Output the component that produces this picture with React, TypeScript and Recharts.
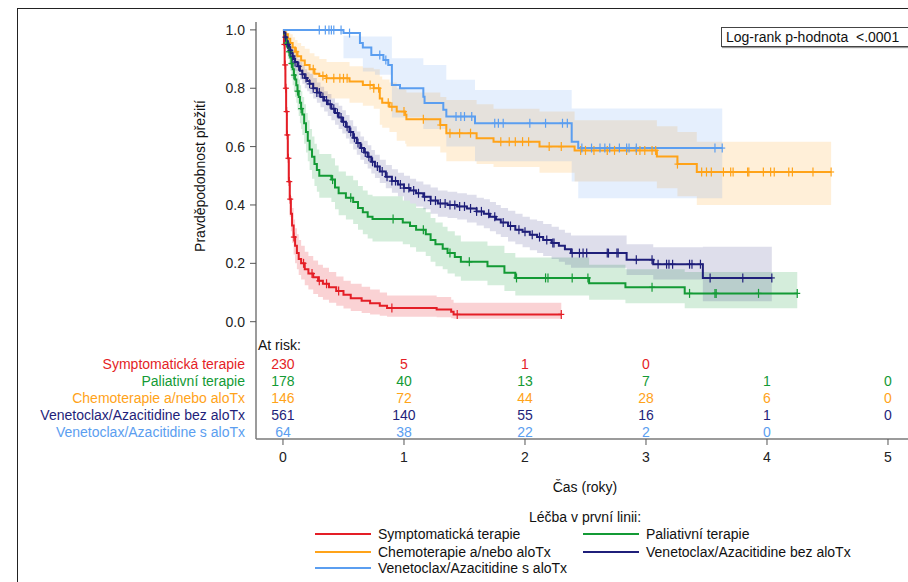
import React from "react";
import { ComposedChart, Line, Area, Scatter, XAxis, YAxis } from "recharts";

// [time (years), survival, lower CI, upper CI] – one row per step of the KM curve
type Step = [number, number, number, number];

const symptomatic: Step[] = [
  [0, 1, 1, 1], [0.008, 0.95, 0.92, 0.98], [0.014, 0.88, 0.84, 0.92], [0.02, 0.8, 0.75, 0.85],
  [0.026, 0.72, 0.66, 0.78], [0.032, 0.64, 0.58, 0.7], [0.04, 0.56, 0.49, 0.62], [0.048, 0.48, 0.42, 0.55],
  [0.056, 0.42, 0.36, 0.48], [0.065, 0.37, 0.31, 0.43], [0.075, 0.33, 0.27, 0.39], [0.088, 0.29, 0.23, 0.35],
  [0.1, 0.26, 0.2, 0.32], [0.115, 0.235, 0.18, 0.3], [0.13, 0.215, 0.16, 0.28], [0.15, 0.2, 0.145, 0.26],
  [0.18, 0.18, 0.125, 0.24], [0.21, 0.165, 0.11, 0.225], [0.25, 0.152, 0.095, 0.21], [0.29, 0.14, 0.085, 0.195],
  [0.33, 0.13, 0.075, 0.185], [0.38, 0.118, 0.065, 0.17], [0.44, 0.105, 0.055, 0.155], [0.5, 0.092, 0.045, 0.14],
  [0.56, 0.08, 0.037, 0.13], [0.65, 0.072, 0.03, 0.12], [0.72, 0.063, 0.025, 0.11], [0.8, 0.055, 0.02, 0.1],
  [0.86, 0.047, 0.017, 0.09], [1.27, 0.042, 0.015, 0.085], [1.39, 0.034, 0.012, 0.075], [1.41, 0.025, 0.01, 0.065],
  [2.3, 0.025, 0.01, 0.065],
];

const palliative: Step[] = [
  [0, 1, 1, 1], [0.01, 0.985, 0.96, 0.995], [0.02, 0.97, 0.94, 0.99], [0.03, 0.955, 0.92, 0.98],
  [0.04, 0.94, 0.9, 0.97], [0.05, 0.925, 0.88, 0.96], [0.06, 0.905, 0.86, 0.945], [0.07, 0.885, 0.835, 0.93],
  [0.08, 0.865, 0.81, 0.91], [0.09, 0.845, 0.79, 0.895], [0.1, 0.83, 0.77, 0.88], [0.11, 0.81, 0.75, 0.865],
  [0.12, 0.79, 0.725, 0.845], [0.13, 0.77, 0.705, 0.83], [0.14, 0.75, 0.68, 0.81], [0.15, 0.73, 0.66, 0.79],
  [0.16, 0.71, 0.64, 0.77], [0.175, 0.68, 0.61, 0.745], [0.19, 0.65, 0.58, 0.715], [0.205, 0.62, 0.55, 0.69],
  [0.22, 0.59, 0.52, 0.66], [0.24, 0.565, 0.49, 0.635], [0.26, 0.54, 0.465, 0.61], [0.28, 0.52, 0.445, 0.59],
  [0.3, 0.5, 0.425, 0.575], [0.4, 0.487, 0.41, 0.56], [0.43, 0.46, 0.385, 0.535], [0.46, 0.44, 0.365, 0.515],
  [0.52, 0.425, 0.35, 0.5], [0.58, 0.41, 0.335, 0.485], [0.62, 0.39, 0.315, 0.465], [0.66, 0.375, 0.3, 0.45],
  [0.7, 0.36, 0.285, 0.435], [0.74, 0.352, 0.275, 0.43], [0.99, 0.34, 0.265, 0.415], [1.05, 0.328, 0.255, 0.405],
  [1.1, 0.315, 0.24, 0.39], [1.18, 0.3, 0.225, 0.375], [1.22, 0.28, 0.205, 0.355], [1.26, 0.265, 0.19, 0.34],
  [1.32, 0.25, 0.18, 0.325], [1.36, 0.235, 0.165, 0.31], [1.42, 0.222, 0.155, 0.295], [1.47, 0.205, 0.14, 0.275],
  [1.69, 0.19, 0.125, 0.26], [1.83, 0.168, 0.105, 0.235], [1.92, 0.15, 0.09, 0.22], [2.53, 0.132, 0.075, 0.195],
  [2.83, 0.118, 0.063, 0.18], [3.32, 0.097, 0.046, 0.17], [4.25, 0.097, 0.046, 0.17],
];

const chemo: Step[] = [
  [0, 1, 1, 1], [0.02, 0.985, 0.965, 0.995], [0.04, 0.97, 0.94, 0.99], [0.06, 0.955, 0.92, 0.985],
  [0.08, 0.94, 0.9, 0.975], [0.1, 0.925, 0.88, 0.965], [0.12, 0.91, 0.86, 0.955], [0.15, 0.895, 0.84, 0.945],
  [0.18, 0.88, 0.825, 0.935], [0.22, 0.865, 0.8, 0.92], [0.26, 0.85, 0.785, 0.91], [0.3, 0.842, 0.775, 0.9],
  [0.36, 0.834, 0.765, 0.89], [0.55, 0.823, 0.75, 0.875], [0.66, 0.811, 0.74, 0.87], [0.75, 0.8, 0.73, 0.865],
  [0.8, 0.765, 0.675, 0.84], [0.82, 0.75, 0.665, 0.83], [0.88, 0.737, 0.65, 0.82], [0.94, 0.72, 0.62, 0.8],
  [1.01, 0.709, 0.61, 0.795], [1.02, 0.694, 0.6, 0.785], [1.3, 0.674, 0.58, 0.77], [1.35, 0.646, 0.55, 0.76],
  [1.6, 0.629, 0.54, 0.745], [1.74, 0.617, 0.53, 0.73], [2.12, 0.6, 0.51, 0.72], [2.41, 0.587, 0.48, 0.69],
  [3.09, 0.566, 0.457, 0.67], [3.26, 0.54, 0.43, 0.65], [3.42, 0.513, 0.4, 0.617], [4.53, 0.513, 0.4, 0.617],
];

const venBez: Step[] = [
  [0, 1, 1, 1], [0.01, 0.99, 0.98, 0.995], [0.02, 0.975, 0.96, 0.985], [0.03, 0.96, 0.945, 0.975],
  [0.04, 0.95, 0.93, 0.965], [0.05, 0.94, 0.92, 0.96], [0.06, 0.93, 0.905, 0.95], [0.07, 0.92, 0.895, 0.94],
  [0.08, 0.91, 0.885, 0.935], [0.09, 0.9, 0.87, 0.925], [0.1, 0.89, 0.86, 0.915], [0.12, 0.875, 0.845, 0.9],
  [0.14, 0.86, 0.83, 0.89], [0.16, 0.848, 0.815, 0.88], [0.18, 0.835, 0.8, 0.865], [0.2, 0.825, 0.79, 0.855],
  [0.22, 0.815, 0.78, 0.85], [0.25, 0.8, 0.765, 0.835], [0.28, 0.785, 0.75, 0.82], [0.31, 0.77, 0.735, 0.805],
  [0.34, 0.758, 0.72, 0.79], [0.37, 0.745, 0.705, 0.78], [0.4, 0.73, 0.69, 0.765], [0.43, 0.715, 0.675, 0.75],
  [0.46, 0.7, 0.66, 0.74], [0.49, 0.685, 0.645, 0.725], [0.52, 0.668, 0.628, 0.708], [0.55, 0.65, 0.61, 0.69],
  [0.58, 0.63, 0.59, 0.67], [0.61, 0.612, 0.572, 0.652], [0.64, 0.595, 0.555, 0.635], [0.67, 0.58, 0.54, 0.62],
  [0.7, 0.565, 0.525, 0.605], [0.73, 0.548, 0.508, 0.588], [0.76, 0.532, 0.492, 0.572], [0.8, 0.515, 0.475, 0.555],
  [0.85, 0.497, 0.457, 0.537], [0.9, 0.482, 0.442, 0.522], [0.95, 0.47, 0.43, 0.51], [1.0, 0.458, 0.415, 0.5],
  [1.05, 0.45, 0.405, 0.49], [1.1, 0.44, 0.395, 0.48], [1.16, 0.428, 0.385, 0.47], [1.22, 0.415, 0.37, 0.46],
  [1.28, 0.405, 0.36, 0.45], [1.36, 0.4, 0.355, 0.445], [1.44, 0.395, 0.35, 0.44], [1.52, 0.388, 0.34, 0.435],
  [1.6, 0.378, 0.33, 0.425], [1.66, 0.37, 0.32, 0.42], [1.71, 0.36, 0.31, 0.41], [1.76, 0.35, 0.3, 0.4],
  [1.8, 0.34, 0.29, 0.39], [1.86, 0.328, 0.275, 0.38], [1.92, 0.315, 0.265, 0.37], [1.98, 0.308, 0.255, 0.36],
  [2.04, 0.298, 0.245, 0.35], [2.1, 0.29, 0.235, 0.345], [2.15, 0.28, 0.225, 0.335], [2.22, 0.27, 0.215, 0.325],
  [2.28, 0.26, 0.205, 0.315], [2.33, 0.248, 0.195, 0.305], [2.38, 0.235, 0.185, 0.295], [2.84, 0.212, 0.16, 0.265],
  [3.06, 0.197, 0.145, 0.255], [3.47, 0.15, 0.07, 0.257], [4.04, 0.15, 0.07, 0.257],
];

const venS: Step[] = [
  [0, 1, 1, 1], [0.5, 0.989, 0.903, 0.98], [0.636, 0.955, 0.903, 0.977], [0.66, 0.94, 0.857, 0.977],
  [0.73, 0.914, 0.857, 0.977], [0.76, 0.914, 0.846, 0.977], [0.83, 0.897, 0.846, 0.977], [0.87, 0.88, 0.846, 0.977],
  [0.9, 0.811, 0.7, 0.903], [0.967, 0.8, 0.7, 0.903], [1.16, 0.771, 0.66, 0.88], [1.17, 0.749, 0.66, 0.88],
  [1.325, 0.726, 0.66, 0.88], [1.35, 0.703, 0.6, 0.829], [1.587, 0.68, 0.55, 0.794], [2.386, 0.617, 0.48, 0.731],
  [2.44, 0.595, 0.423, 0.731], [3.63, 0.595, 0.423, 0.731],
];

// censoring times (years)
const censSymptomatic = [0.012, 0.018, 0.024, 0.03, 0.036, 0.045, 0.052, 0.06, 0.09, 0.17, 0.24, 0.3, 0.36, 0.46, 0.9, 1.44, 2.3];
const censPalliative = [0.03, 0.05, 0.07, 0.09, 0.12, 0.15, 0.41, 0.56, 0.91, 1.16, 1.38, 1.54, 1.93, 2.17, 2.19, 2.39, 2.52, 3.05, 3.36, 3.57, 3.58, 3.93, 4.25];
const censChemo = [0.11, 0.25, 0.33, 0.36, 0.42, 0.47, 0.5, 0.53, 0.72, 0.75, 0.79, 0.87, 0.9, 1.0, 1.16, 1.3, 1.38, 1.46, 1.55, 1.8, 1.87, 1.92, 1.98, 2.03, 2.2, 2.3, 2.46, 2.5, 2.57, 2.68, 2.74, 2.84, 2.92, 2.95, 2.99, 3.05, 3.08, 3.26, 3.46, 3.5, 3.54, 3.64, 3.7, 3.72, 3.84, 3.85, 3.97, 4.03, 4.06, 4.18, 4.21, 4.38, 4.53];
const censVenBez = [0.02, 0.04, 0.06, 0.08, 0.1, 0.13, 0.16, 0.19, 0.22, 0.25, 0.28, 0.3, 0.33, 0.36, 0.39, 0.42, 0.45, 0.48, 0.5, 0.53, 0.56, 0.59, 0.62, 0.65, 0.68, 0.71, 0.74, 0.78, 0.82, 0.86, 0.9, 0.93, 0.97, 1.0, 1.04, 1.08, 1.12, 1.17, 1.22, 1.26, 1.3, 1.34, 1.38, 1.42, 1.46, 1.5, 1.55, 1.6, 1.64, 1.7, 1.75, 1.82, 1.88, 1.95, 2.0, 2.06, 2.12, 2.18, 2.23, 2.24, 2.39, 2.45, 2.48, 2.51, 2.68, 2.69, 2.76, 2.77, 2.92, 3.05, 3.1, 3.17, 3.19, 3.22, 3.36, 3.38, 3.45, 3.53, 3.8, 4.04];
const censVenS = [0.3, 0.35, 0.38, 0.4, 0.42, 0.48, 0.55, 0.8, 0.85, 1.43, 1.47, 1.5, 1.56, 1.75, 1.78, 1.82, 2.04, 2.17, 2.31, 2.35, 2.47, 2.55, 2.62, 2.66, 2.7, 2.78, 2.84, 2.86, 2.92, 3.57, 3.63];

const groupNames = [
  "Symptomatická terapie",
  "Paliativní terapie",
  "Chemoterapie a/nebo aloTx",
  "Venetoclax/Azacitidine bez aloTx",
  "Venetoclax/Azacitidine s aloTx",
];
const groupColors = ["#e41e26", "#139a35", "#ffa319", "#1f1f7a", "#5b9ef0"];
const bandOpacity = [0.2, 0.18, 0.17, 0.15, 0.16];

const atRiskTimes = [0, 1, 2, 3, 4, 5];
const atRiskSymptomatic = [230, 5, 1, 0, null, null];
const atRiskPalliative = [178, 40, 13, 7, 1, 0];
const atRiskChemo = [146, 72, 44, 28, 6, 0];
const atRiskVenBez = [561, 140, 55, 16, 1, 0];
const atRiskVenS = [64, 38, 22, 2, 0, null];

const curves = [symptomatic, palliative, chemo, venBez, venS];
const censors = [censSymptomatic, censPalliative, censChemo, censVenBez, censVenS];
const atRisk = [atRiskSymptomatic, atRiskPalliative, atRiskChemo, atRiskVenBez, atRiskVenS];

const X_DOMAIN: [number, number] = [-0.223, 5.248];
const Y_DOMAIN: [number, number] = [-0.402, 1.027];
const HEADER_Y = -0.08;
const ROW_Y0 = -0.146;
const ROW_STEP = 0.0577;
const FONT = '"Liberation Sans", Arial, sans-serif';

function survAt(steps: Step[], t: number) {
  let s = steps[0][1];
  for (const p of steps) if (p[0] <= t + 1e-9) s = p[1];
  return s;
}

const lineData = curves.map((c) => c.map(([t, s]) => ({ t, s })));
const bandData = curves.map((c) => c.map(([t, , lo, hi]) => ({ t, band: [lo, hi] })));
const censorData = censors.map((ts, i) => ts.map((t) => ({ t, s: survAt(curves[i], t) })));
const atRiskData = atRisk.map((row, i) =>
  row
    .map((n, j) => ({ t: atRiskTimes[j], s: ROW_Y0 - i * ROW_STEP, n }))
    .filter((d) => d.n !== null)
);
const rowLabelData = groupNames.map((name, i) => ({ t: X_DOMAIN[0], s: ROW_Y0 - i * ROW_STEP, name, i }));

const cross = (color: string) => (props: any) => {
  const { cx, cy } = props;
  if (cx == null || cy == null) return <g />;
  return (
    <g>
      <line x1={cx} x2={cx} y1={cy - 4.5} y2={cy + 4.5} stroke={color} strokeWidth={1.2} />
      <line x1={cx - 3} x2={cx + 3} y1={cy} y2={cy} stroke={color} strokeWidth={1.2} />
    </g>
  );
};

const countText = (color: string) => (props: any) => (
  <text x={props.cx} y={props.cy} textAnchor="middle" dominantBaseline="central" fill={color} fontSize={14} fontFamily={FONT}>
    {props.payload.n}
  </text>
);

const rowLabel = (props: any) => (
  <text x={props.cx - 11} y={props.cy} textAnchor="end" dominantBaseline="central" fill={groupColors[props.payload.i]} fontSize={14} fontFamily={FONT}>
    {props.payload.name}
  </text>
);

const headerLabel = (props: any) => (
  <text x={props.cx + 2} y={props.cy} textAnchor="start" dominantBaseline="central" fill="#111" fontSize={14} fontFamily={FONT}>
    At risk:
  </text>
);

const legendItems = [
  { i: 0, x: 315, y: 534 },
  { i: 1, x: 583, y: 534 },
  { i: 2, x: 315, y: 551.5 },
  { i: 3, x: 583, y: 551.5 },
  { i: 4, x: 315, y: 568 },
];

export default function App() {
  const axisStroke = "#7a7a7a";
  return (
    <div style={{ position: "absolute", left: 0, top: 0, width: 908, height: 582, overflow: "hidden", background: "#fff", fontFamily: FONT, color: "#111" }}>
      <div style={{ position: "absolute", left: 17, top: 8, width: 900, height: 580, borderLeft: "1.5px solid #222", borderTop: "1.5px solid #222" }} />
      <div style={{ position: "absolute", left: 0, top: 0 }}>
        <ComposedChart width={940} height={582} margin={{ top: 22, right: 22, bottom: 113, left: 196 }}>
          <XAxis
            xAxisId="top"
            orientation="top"
            type="number"
            dataKey="t"
            domain={X_DOMAIN}
            tick={false}
            tickLine={false}
            height={0}
            axisLine={{ stroke: axisStroke, strokeWidth: 1.5 }}
          />
          <XAxis
            type="number"
            dataKey="t"
            domain={X_DOMAIN}
            ticks={atRiskTimes}
            interval={0}
            height={30}
            tickSize={6}
            tickMargin={7}
            axisLine={{ stroke: axisStroke, strokeWidth: 1.5 }}
            tickLine={{ stroke: "#555" }}
            tick={{ fill: "#222", fontSize: 14, fontFamily: FONT }}
          />
          <YAxis
            type="number"
            dataKey="s"
            domain={Y_DOMAIN}
            ticks={[0, 0.2, 0.4, 0.6, 0.8, 1]}
            interval={0}
            tickFormatter={(v: number) => v.toFixed(1)}
            width={60}
            tickSize={6}
            tickMargin={5}
            axisLine={{ stroke: axisStroke, strokeWidth: 1.5 }}
            tickLine={{ stroke: "#555" }}
            tick={{ fill: "#222", fontSize: 14, fontFamily: FONT }}
          />
          {bandData.map((d, i) => (
            <Area
              key={"band" + i}
              data={d}
              dataKey="band"
              type="stepAfter"
              stroke="none"
              fill={groupColors[i]}
              fillOpacity={bandOpacity[i]}
              isAnimationActive={false}
              activeDot={false}
            />
          ))}
          {lineData.map((d, i) => (
            <Line
              key={"line" + i}
              data={d}
              dataKey="s"
              type="stepAfter"
              stroke={groupColors[i]}
              strokeWidth={2}
              dot={false}
              activeDot={false}
              isAnimationActive={false}
            />
          ))}
          {censorData.map((d, i) => (
            <Scatter key={"cens" + i} data={d} dataKey="s" shape={cross(groupColors[i])} isAnimationActive={false} />
          ))}
          <Scatter data={[{ t: X_DOMAIN[0], s: HEADER_Y }]} dataKey="s" shape={headerLabel} isAnimationActive={false} />
          <Scatter data={rowLabelData} dataKey="s" shape={rowLabel} isAnimationActive={false} />
          {atRiskData.map((d, i) => (
            <Scatter key={"risk" + i} data={d} dataKey="s" shape={countText(groupColors[i])} isAnimationActive={false} />
          ))}
        </ComposedChart>
      </div>

      <div style={{ position: "absolute", left: 200, top: 176, transform: "translate(-50%, -50%) rotate(-90deg)", whiteSpace: "nowrap", fontSize: 14 }}>
        Pravděpodobnost přežití
      </div>
      <div style={{ position: "absolute", left: 585, top: 487, transform: "translate(-50%, -50%)", whiteSpace: "nowrap", fontSize: 14 }}>
        Čas (roky)
      </div>
      <div style={{ position: "absolute", left: 721, top: 27, width: 184, height: 18, border: "1px solid #444", boxShadow: "1px 1px 1px #999", background: "#fff", fontSize: 14, lineHeight: "18px", paddingLeft: 4, boxSizing: "content-box", whiteSpace: "pre" }}>
        {"Log-rank p-hodnota  <.0001"}
      </div>

      <div style={{ position: "absolute", left: 585, top: 517, transform: "translate(-50%, -50%)", whiteSpace: "nowrap", fontSize: 14 }}>
        Léčba v první linii:
      </div>
      {legendItems.map(({ i, x, y }) => (
        <div key={i} style={{ position: "absolute", left: x, top: y - 9, height: 18, display: "flex", alignItems: "center", whiteSpace: "nowrap", fontSize: 14 }}>
          <span style={{ display: "inline-block", width: 56, height: 2, background: groupColors[i], marginRight: 7 }} />
          <span>{groupNames[i]}</span>
        </div>
      ))}
    </div>
  );
}
